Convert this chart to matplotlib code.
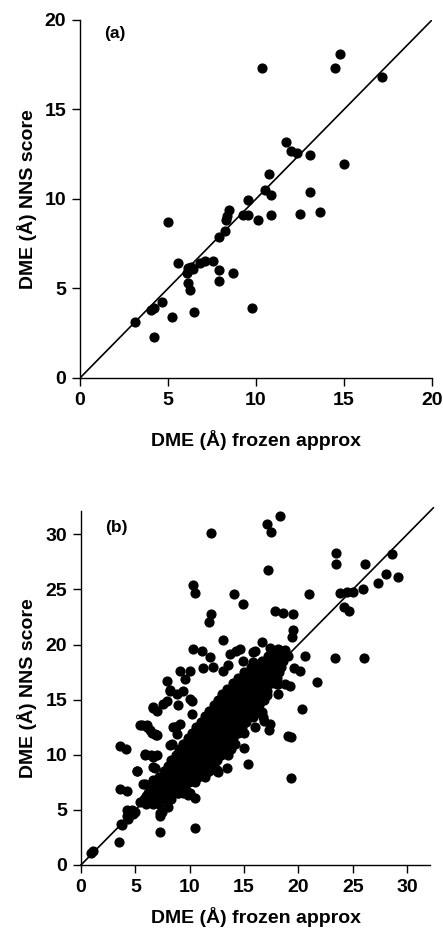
import matplotlib.pyplot as plt

plt.rcParams['font.family'] = ['Liberation Sans', 'DejaVu Sans']
plt.rcParams['font.weight'] = 'bold'

# panel (a) data
a_frozen = [3.13, 4.02, 4.21, 4.68, 4.19, 5.21, 5.0, 5.59, 6.10, 6.16, 6.29, 6.41,
            6.16, 6.26, 6.48, 6.82, 7.11, 7.58, 7.87, 7.87, 8.72, 7.92, 8.21, 8.30,
            8.34, 8.49, 9.25, 9.57, 9.57, 10.1, 9.76, 10.35, 10.52, 10.71, 10.84,
            10.84, 11.72, 11.98, 12.32, 13.08, 12.51, 13.04, 13.65, 14.98, 14.46,
            14.75, 17.16]
a_nns = [3.11, 3.81, 3.91, 4.24, 2.27, 3.39, 8.74, 6.42, 5.86, 6.14, 6.18, 6.08,
         5.30, 4.93, 3.67, 6.42, 6.51, 6.51, 6.05, 5.40, 5.86, 7.87, 8.19, 8.84,
         9.06, 9.40, 9.12, 9.12, 9.92, 8.84, 3.91, 17.3, 10.51, 11.4, 10.23,
         9.12, 13.2, 12.7, 12.56, 12.43, 9.15, 10.38, 9.27, 11.96, 17.3,
         18.1, 16.84]

# panel (b) data: scattered points
b_frozen = [0.9, 1.1, 3.52, 3.68, 3.74, 4.2, 4.5, 4.8, 5.0, 4.3, 4.7, 4.66, 4.2,
            3.59, 4.2, 3.59, 4.14, 5.18, 5.88, 6.4, 6.96, 6.8, 7.26, 7.3, 7.26, 8.03,
            7.42, 10.48, 5.6, 6.1, 6.5, 6.9, 6.65, 7.0, 7.9, 8.2, 5.4, 6.0, 5.9, 6.6,
            8.95, 10.0, 8.2, 8.6, 8.95, 9.87, 10.5, 10.33, 10.48, 14.07, 14.92,
            11.92, 11.8, 13.08, 10.33, 11.1, 11.86, 16.6, 17.4, 9.1, 10.0, 9.56,
            11.25, 12.17, 13.08, 13.54, 7.88, 8.18, 8.8, 6.65, 7.57, 6.04, 6.8,
            8.49, 8.8, 10.18, 16.0, 16.6, 17.4, 17.07, 18.0, 16.0, 17.7, 11.92,
            17.07, 17.47, 18.3, 17.16, 17.84, 18.6, 19.5, 19.5, 19.37, 19.3, 19.3,
            20.3, 20.96, 21.67, 20.6, 23.41, 23.44, 23.35, 26.05, 26.1, 23.8, 24.42,
            25.04, 24.18, 24.67, 25.9, 27.34, 28.01, 28.62, 29.18, 14.6, 15.8,
            18.14, 20.1, 19.6, 19.2, 18.14, 18.14, 17.13, 16.46, 16.76, 17.3,
            19.06, 15.38, 13.4, 12.57, 11.55, 10.02, 7.26, 8.49, 5.12, 5.88, 6.65,
            6.65, 5.73, 5.42, 6.34, 6.96, 8.34, 8.7, 9.1, 10.0, 9.35, 10.17, 9.4,
            14.0, 14.6, 12.47, 10.94, 12.17, 14.9, 15.84, 13.7, 14.3, 17.68,
            18.76, 16.8, 15.84, 15.0]
b_nns = [1.1, 1.25, 2.05, 3.71, 3.62, 4.4, 4.9, 4.6, 4.8, 4.2, 5.0, 4.82, 4.97,
         6.85, 6.72, 10.8, 10.55, 8.53, 9.95, 9.95, 9.95, 8.83, 4.67, 4.4, 3.01, 5.27,
         4.82, 3.32, 12.7, 12.5, 12.0, 11.8, 14.2, 14.0, 14.9, 15.8, 5.7, 6.3, 7.3, 7.7,
         14.5, 15.1, 10.85, 12.5, 6.49, 6.33, 6.03, 25.4, 24.7, 24.57, 23.67,
         22.77, 22.0, 20.41, 19.6, 19.45, 18.9, 20.2, 19.7, 17.6, 17.57, 16.9,
         17.9, 18.0, 17.64, 18.1, 16.73, 15.83, 15.53, 14.3, 14.6, 12.66, 11.9,
         12.5, 11.9, 13.7, 12.5, 13.87, 12.8, 15.8, 16.4, 19.45, 18.2, 30.15,
         30.9, 30.2, 31.7, 26.74, 23.06, 22.9, 22.8, 21.3, 20.65, 11.6, 7.9,
         14.17, 24.57, 16.58, 18.93, 28.34, 27.28, 18.75, 18.78, 27.34, 24.63, 24.81,
         24.78, 23.36, 23.06, 25.03, 25.54, 26.38, 28.19, 26.14, 19.6, 19.3,
         19.6, 17.64, 17.9, 16.28, 16.44, 15.53, 15.4, 13.87, 13.4, 12.2,
         11.67, 9.13, 8.83, 8.44, 8.44, 6.54, 6.2, 6.78, 8.53, 10.1, 9.8,
         8.9, 7.39, 12.66, 12.2, 11.76, 11.0, 12.5, 12.8, 11.45, 15.8, 14.9, 10.4,
         12.8, 12.5, 8.6, 8.6, 11.9, 18.5, 18.4, 19.1, 19.4, 16.9,
         16.4, 13.1, 13.4, 10.6]

# panel (b) data: dense core, read row by row (nns level -> frozen values)
core_rows = {
    5.5: [6.0, 6.6, 7.2],
    6.0: [5.8, 6.5, 7.0, 7.6, 8.3],
    6.5: [6.2, 7.0, 7.6, 8.2, 8.9, 9.4, 9.9],
    7.0: [6.6, 7.2, 7.8, 8.4, 9.0, 9.6],
    7.5: [6.9, 7.5, 8.1, 8.7, 9.3, 9.9, 10.5],
    8.0: [7.2, 7.8, 8.4, 9.0, 9.6, 10.2, 10.8, 11.4],
    8.5: [7.6, 8.2, 8.8, 9.4, 10.0, 10.6, 11.2, 11.8, 12.5],
    9.0: [8.0, 8.6, 9.2, 9.8, 10.4, 11.0, 11.6, 12.2],
    9.5: [8.3, 8.9, 9.5, 10.1, 10.7, 11.3, 11.9, 12.5],
    10.0: [8.7, 9.3, 9.9, 10.5, 11.1, 11.7, 12.3, 12.9, 13.5],
    10.5: [9.0, 9.6, 10.2, 10.8, 11.4, 12.0, 12.6, 13.2, 13.8],
    11.0: [9.4, 10.0, 10.6, 11.2, 11.8, 12.4, 13.0, 13.6, 14.2],
    11.5: [9.8, 10.4, 11.0, 11.6, 12.2, 12.8, 13.4, 14.0],
    12.0: [10.2, 10.8, 11.4, 12.0, 12.6, 13.2, 13.8, 14.4, 15.0],
    12.5: [10.6, 11.2, 11.8, 12.4, 13.0, 13.6, 14.2, 14.8],
    13.0: [11.0, 11.6, 12.2, 12.8, 13.4, 14.0, 14.6, 15.2],
    13.5: [11.4, 12.0, 12.6, 13.2, 13.8, 14.4, 15.0, 15.6],
    14.0: [11.8, 12.4, 13.0, 13.6, 14.2, 14.8, 15.4, 16.0],
    14.5: [12.2, 12.8, 13.4, 14.0, 14.6, 15.2, 15.8, 16.4],
    15.0: [12.6, 13.2, 13.8, 14.4, 15.0, 15.6, 16.2, 16.8],
    15.5: [13.0, 13.6, 14.2, 14.8, 15.4, 16.0, 16.6],
    16.0: [13.4, 14.0, 14.6, 15.2, 15.8, 16.4, 17.0],
    16.5: [14.0, 14.6, 15.2, 15.8, 16.4, 17.0, 17.6],
    17.0: [14.4, 15.0, 15.6, 16.2, 16.8, 17.4, 18.0],
    17.5: [15.0, 15.6, 16.2, 16.8, 17.6, 18.2],
    18.0: [15.6, 16.4, 17.2, 17.8, 18.4],
    18.5: [16.6, 17.4, 18.0, 18.6],
    19.0: [17.2, 17.8, 18.4, 19.0],
    19.5: [17.6, 18.2, 18.8],
}
for level, xs in core_rows.items():
    b_frozen += xs
    b_nns += [level] * len(xs)

fig = plt.figure(figsize=(4.43, 9.36), dpi=100)
ax_a = fig.add_axes([0.1806, 0.5962, 0.7946, 0.3825])
ax_b = fig.add_axes([0.1828, 0.0759, 0.788, 0.378])


def style(ax, lim, ticks, xlab_y, ylab_x):
    ax.set_xlim(0, lim)
    ax.set_ylim(0, lim)
    ax.set_xticks(ticks)
    ax.set_yticks(ticks)
    for s in ['top', 'right']:
        ax.spines[s].set_visible(False)
    for s in ['left', 'bottom']:
        ax.spines[s].set_linewidth(1.0)
    ax.tick_params(direction='out', length=6, width=1.0, labelsize=14, pad=4)
    ax.set_xlabel('DME (Å) frozen approx', fontsize=14, fontweight='bold', va='center')
    ax.set_ylabel('DME (Å) NNS score', fontsize=14, fontweight='bold', va='center')
    ax.xaxis.set_label_coords(0.5, xlab_y)
    ax.yaxis.set_label_coords(ylab_x, 0.5)


ax_a.plot([0, 20], [0, 20], color='black', lw=1.2)
ax_a.scatter(a_frozen, a_nns, s=40, color='black', zorder=3)
style(ax_a, 20, [0, 5, 10, 15, 20], -0.173, -0.15)
ax_a.text(2.0, 19.25, '(a)', fontsize=12.5, fontweight='bold', ha='center', va='center')

ax_b.plot([0, 32.4], [0, 32.4], color='black', lw=1.2, clip_on=False)
ax_b.scatter(b_frozen, b_nns, s=40, color='black', zorder=3, clip_on=False)
style(ax_b, 32.1, [0, 5, 10, 15, 20, 25, 30], -0.147, -0.155)
ax_b.text(3.3, 30.6, '(b)', fontsize=12.5, fontweight='bold', ha='center', va='center')

fig.savefig('out.png', dpi=100)
